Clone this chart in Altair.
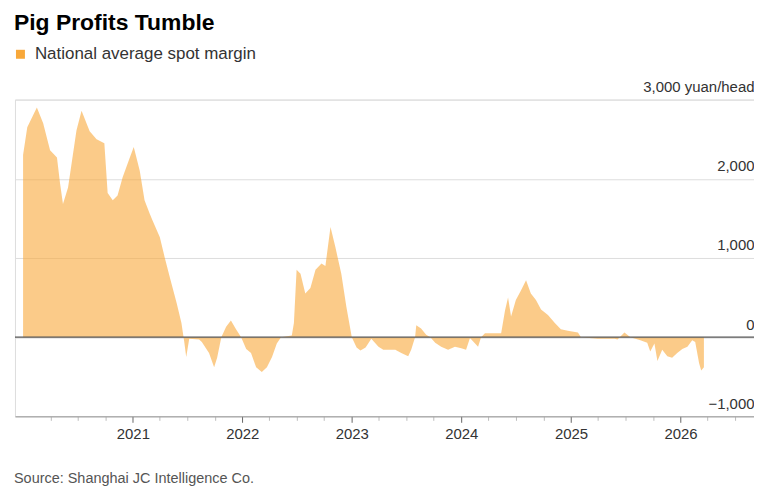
import altair as alt
import pandas as pd

dates = [
    "2020-01-01", "2020-01-15", "2020-02-16", "2020-03-08", "2020-03-31", "2020-04-23",
    "2020-05-03", "2020-05-13", "2020-05-30", "2020-06-27", "2020-07-14", "2020-08-10",
    "2020-09-02", "2020-09-28", "2020-10-09", "2020-10-26", "2020-11-11", "2020-11-28",
    "2020-12-22", "2021-01-04", "2021-01-24", "2021-02-09", "2021-02-26", "2021-03-07",
    "2021-04-01", "2021-04-17", "2021-05-04", "2021-05-27", "2021-06-12", "2021-06-21",
    "2021-06-28", "2021-07-08", "2021-08-10", "2021-08-19", "2021-09-12", "2021-09-29",
    "2021-10-09", "2021-10-23", "2021-11-08", "2021-11-24", "2021-12-11", "2021-12-28",
    "2022-01-14", "2022-01-30", "2022-02-16", "2022-03-07", "2022-03-24", "2022-04-10",
    "2022-04-26", "2022-05-10", "2022-06-15", "2022-06-22", "2022-07-01", "2022-07-14",
    "2022-07-30", "2022-08-16", "2022-09-02", "2022-09-22", "2022-10-05", "2022-10-22",
    "2022-11-07", "2022-11-27", "2022-12-14", "2023-01-01", "2023-01-17", "2023-01-30",
    "2023-02-16", "2023-03-07", "2023-03-31", "2023-04-16", "2023-05-03", "2023-05-26",
    "2023-06-15", "2023-07-08", "2023-07-18", "2023-07-31", "2023-08-04", "2023-08-20",
    "2023-09-06", "2023-09-20", "2023-10-06", "2023-10-26", "2023-11-18", "2023-12-11",
    "2024-01-01", "2024-01-17", "2024-01-30", "2024-02-26", "2024-03-07", "2024-03-20",
    "2024-05-13", "2024-05-26", "2024-06-05", "2024-06-15", "2024-07-01", "2024-07-18",
    "2024-08-04", "2024-08-20", "2024-09-06", "2024-09-23", "2024-10-16", "2024-11-08",
    "2024-11-28", "2024-12-21", "2025-01-24", "2025-02-03", "2025-03-31", "2025-05-27",
    "2025-06-05", "2025-06-28", "2025-07-18", "2025-08-20", "2025-09-12", "2025-09-22",
    "2025-10-06", "2025-10-16", "2025-11-01", "2025-11-18", "2025-12-04", "2025-12-21",
    "2026-01-07", "2026-01-24", "2026-02-09", "2026-02-19", "2026-03-04", "2026-03-11",
    "2026-03-20",
]
margins = [
    2300, 2650, 2900, 2700, 2360, 2270,
    1950, 1680, 1890, 2610, 2860, 2600,
    2500, 2450, 1820, 1730, 1790, 2020,
    2270, 2400, 2100, 1730, 1560, 1480,
    1260, 1010, 760, 430, 180, -50,
    -250, -20, -30, -60, -200, -380,
    -260, 0, 130, 210, 100, 0,
    -150, -200, -380, -440, -380, -250,
    -80, 0, 20, 180, 850, 800,
    550, 620, 850, 930, 900, 1390,
    1140, 800, 380, 0, -130, -170,
    -130, -20, -120, -160, -160, -160,
    -200, -240, -160, 0, 150, 110,
    30, 0, -70, -120, -160, -120,
    -140, -160, -10, -120, 0, 50,
    50, 340, 500, 260, 470, 590,
    720, 550, 470, 350, 280, 180,
    100, 80, 60, 0, -20, -20,
    -30, 60, 0, -40, -70, -180,
    -80, -300, -160, -240, -260, -200,
    -150, -120, -40, -60, -330, -420,
    -380,
]
series_name = "National average spot margin"
y_ticks = [-1000, 0, 1000, 2000, 3000]
tick_years = [2020, 2021, 2022, 2023, 2024, 2025, 2026]
title_text = "Pig Profits Tumble"
source_text = "Source: Shanghai JC Intelligence Co."

df = pd.DataFrame({"date": dates, "margin": margins, "series": series_name})

quarter_ticks = []
for yr in tick_years:
    for m in (1, 4, 7, 10):
        if (yr == 2020 and m == 1) or (yr == 2026 and m > 7):
            continue
        quarter_ticks.append(alt.DateTime(year=yr, month=m, date=1, utc=True))

FONT = "Liberation Sans"

x_enc = alt.X(
    "date:T",
    scale=alt.Scale(
        type="utc",
        domain=[alt.DateTime(year=2019, month=12, date=5, utc=True),
                alt.DateTime(year=2026, month=9, date=3, utc=True)],
    ),
    axis=alt.Axis(
        values=quarter_ticks,
        labelExpr="utcmonth(datum.value) == 0 ? utcFormat(datum.value, '%Y') : ''",
        tickSize={"condition": {"test": "utcmonth(datum.value) == 0", "value": 6}, "value": 4},
        tickColor={"condition": {"test": "utcmonth(datum.value) == 0", "value": "#666666"}, "value": "#bbbbbb"},
        domainColor="#999999",
        grid=False,
        labelFont=FONT,
        labelFontSize=15,
        labelColor="#333333",
        labelPadding=4,
        labelOverlap=False,
        labelFlush=False,
        title=None,
    ),
)

y_enc = alt.Y(
    "margin:Q",
    scale=alt.Scale(domain=[-1000, 3000], nice=False),
    axis=alt.Axis(
        orient="right",
        values=y_ticks,
        labelExpr="datum.value == 3000 ? '3,000 yuan/head' : format(datum.value, ',')",
        labelAlign="right",
        labelBaseline="alphabetic",
        labelOffset=-8,
        labelPadding=0,
        ticks=False,
        tickSize=0,
        domain=False,
        grid=True,
        gridColor="#dddddd",
        labelFont=FONT,
        labelFontSize=15,
        labelColor="#333333",
        title=None,
    ),
)

area = alt.Chart(df).mark_area(opacity=0.6, interpolate="linear").encode(
    x=x_enc,
    y=y_enc,
    y2=alt.datum(0),
    color=alt.Color(
        "series:N",
        scale=alt.Scale(domain=[series_name], range=["#f8a83a"]),
        legend=alt.Legend(
            title=None,
            orient="none",
            legendX=-3,
            legendY=-54,
            symbolType="square",
            symbolSize=81,
            symbolOpacity=1,
            symbolStrokeWidth=0,
            labelFont=FONT,
            labelFontSize=17,
            labelColor="#333333",
            labelOffset=6,
            labelLimit=0,
        ),
    ),
)

zero = alt.Chart(pd.DataFrame({"v": [0]})).mark_rule(color="#555555", strokeWidth=1.2).encode(
    y=alt.Y("v:Q")
)

title = alt.Chart(pd.DataFrame({"t": [title_text]})).mark_text(
    align="left", baseline="alphabetic", font=FONT, fontSize=23, fontWeight="bold", color="#000000"
).encode(x=alt.value(-1), y=alt.value(-70), text="t:N")

source = alt.Chart(pd.DataFrame({"t": [source_text]})).mark_text(
    align="left", baseline="alphabetic", font=FONT, fontSize=14.5, color="#555555"
).encode(x=alt.value(-1), y=alt.value(385), text="t:N")

chart = alt.layer(area, zero, title, source).properties(
    width=742,
    height=318,
    autosize=alt.AutoSizeParams(type="none"),
    padding={"left": 7, "top": 91, "right": 0, "bottom": 70},
).configure_view(stroke=None).configure(background="white")

chart.save("out.html", embed_options={"renderer": "svg", "actions": False})
